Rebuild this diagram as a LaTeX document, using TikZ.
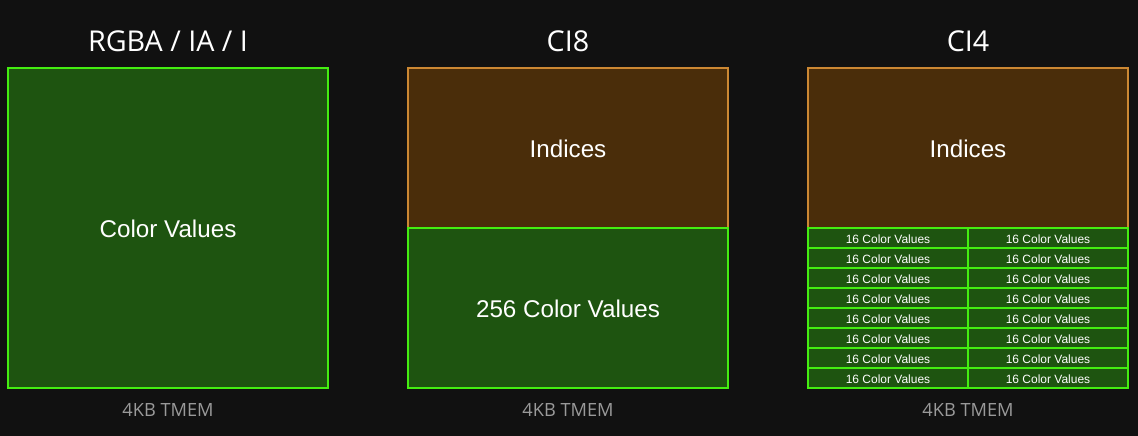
\documentclass[tikz,border=0pt]{standalone}
\usepackage{fontspec}
\setmainfont{Open Sans}
\newfontfamily\arialf{Liberation Sans}
\definecolor{bgc}{HTML}{111111}
\definecolor{gfill}{HTML}{1E5410}
\definecolor{gline}{HTML}{44EE11}
\definecolor{bfill}{HTML}{4A2D0A}
\definecolor{bline}{HTML}{CC8833}
\definecolor{capc}{HTML}{9A9A9A}
\tikzset{
  gbox/.style={fill=gfill,draw=gline,line width=2pt},
  bbox/.style={fill=bfill,draw=bline,line width=2pt},
  titletxt/.style={text=white,font=\fontsize{28.7}{32}\selectfont},
  captxt/.style={text=capc,font=\fontsize{18.2}{21}\selectfont},
  bigtxt/.style={text=white,font=\arialf\fontsize{24.2}{27}\selectfont},
  smalltxt/.style={text=white,font=\arialf\fontsize{12}{14}\selectfont},
}
\begin{document}
\begin{tikzpicture}[x=1pt,y=-1pt]
\fill[bgc] (0,0) rectangle (1138,436);
\useasboundingbox (0,0) rectangle (1138,436);
% Column 1
\node[titletxt] (t1) at (168,41) {RGBA / IA / I};
\draw[gbox] (8,68) rectangle (328,388);
\node[bigtxt] (c1) at (168,229) {Color Values};
\node[captxt] (m1) at (168,409.5) {4KB TMEM};
% Column 2
\node[titletxt] (t2) at (568,41) {CI8};
\draw[bbox] (408,68) rectangle (728,228);
\draw[gbox] (408,228) rectangle (728,388);
\node[bigtxt] (i2) at (568,149) {Indices};
\node[bigtxt] (c2) at (568,309) {256 Color Values};
\node[captxt] (m2) at (568,409.5) {4KB TMEM};
% Column 3
\node[titletxt] (t3) at (968,41) {CI4};
\draw[bbox] (808,68) rectangle (1128,228);
\node[bigtxt] (i3) at (968,149) {Indices};
\foreach \r in {0,...,7}{
  \draw[gbox] (808,228+20*\r) rectangle (968,248+20*\r);
  \draw[gbox] (968,228+20*\r) rectangle (1128,248+20*\r);
  \node[smalltxt] (l\r) at (888,239.5+20*\r) {16 Color Values};
  \node[smalltxt] (r\r) at (1048,239.5+20*\r) {16 Color Values};
}
\node[captxt] (m3) at (968,409.5) {4KB TMEM};
\end{tikzpicture}
\end{document}
